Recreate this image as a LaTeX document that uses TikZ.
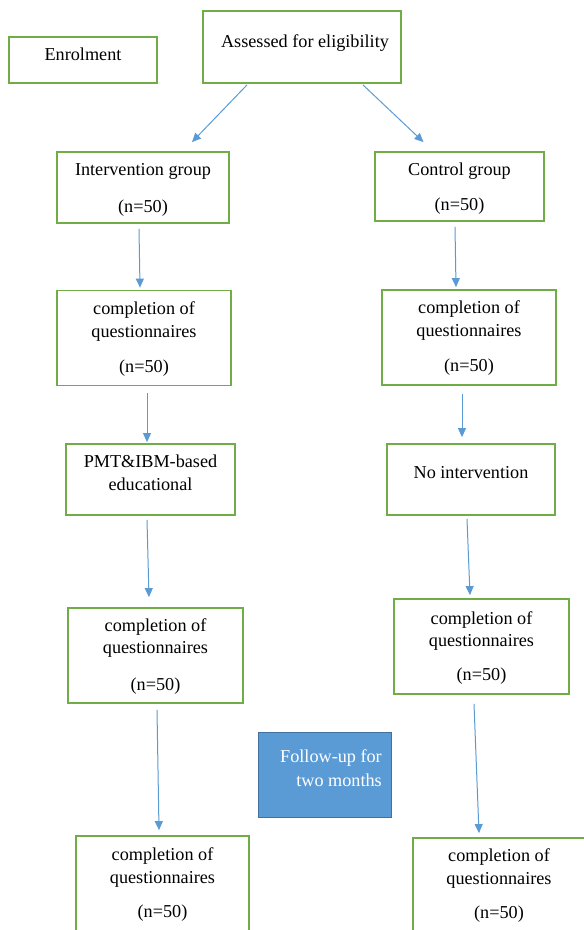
\documentclass[tikz,border=0pt]{standalone}
\usepackage{fontspec}
\setmainfont{Liberation Serif}
\usetikzlibrary{arrows.meta}
\definecolor{boxgreen}{HTML}{70AD47}
\definecolor{arrblue}{HTML}{5B9BD5}
\definecolor{fillblue}{HTML}{5B9BD5}
\definecolor{edgeblue}{HTML}{41719C}
\tikzset{
  gbox/.style={draw=boxgreen, line width=1.8pt, inner sep=0pt},
  txt/.style={inner sep=0pt, font=\fontsize{18.2}{21}\selectfont, text height=0.78em, text depth=0.12em, yshift=-2.5pt},
  arr/.style={draw=arrblue, line width=1pt, -{Triangle[length=9pt,width=8pt]}}
}
\newcommand{\gboxat}[5]{\node[gbox, minimum width=#4pt, minimum height=#5pt] (#1) at (#2,#3) {};}
\begin{document}
\begin{tikzpicture}[x=1pt,y=-1pt]
\clip (0,0) rectangle (584,930);
\fill[white] (0,0) rectangle (584,930);
% boxes
\gboxat{enrol}{83}{60}{148}{46}
\gboxat{assess}{302}{47}{198}{72}
\gboxat{ig}{143}{187.5}{172}{71}
\gboxat{cg}{459.5}{186.5}{169}{69}
\gboxat{cqa}{144}{338}{174}{95}
\gboxat{cqb}{469}{337.5}{174}{95}
\gboxat{pmt}{150.5}{479.5}{169}{71}
\gboxat{noint}{471}{479.5}{168}{71}
\gboxat{cqc}{155.5}{655.5}{175}{95}
\gboxat{cqd}{481.5}{646.5}{175}{95}
\gboxat{cqe}{162.5}{893}{173}{114}
\gboxat{cqf}{500}{894}{174}{112}
\node[draw=edgeblue, fill=fillblue, line width=1pt, minimum width=133pt, minimum height=85pt, inner sep=0pt] (fu) at (324.5,774.5) {};
% texts
\node[txt] (tenrol) at (83,55) {Enrolment};
\node[txt] (tassess) at (305,42) {Assessed for eligibility};
\node[txt] (tig1) at (143,170) {Intervention group};
\node[txt] (tig2) at (143,207) {(n=50)};
\node[txt] (tcg1) at (459.5,170) {Control group};
\node[txt] (tcg2) at (459.5,205) {(n=50)};
\node[txt] (tca1) at (144,309) {completion of};
\node[txt] (tca2) at (144,332) {questionnaires};
\node[txt] (tca3) at (144,367) {(n=50)};
\node[txt] (tcb1) at (469,308) {completion of};
\node[txt] (tcb2) at (469,331) {questionnaires};
\node[txt] (tcb3) at (469,366) {(n=50)};
\node[txt] (tpmt1) at (150.5,462) {PMT\&IBM-based};
\node[txt] (tpmt2) at (150.5,485) {educational};
\node[txt] (tnoint) at (471,473) {No intervention};
\node[txt] (tcc1) at (155.5,626) {completion of};
\node[txt] (tcc2) at (155.5,648) {questionnaires};
\node[txt] (tcc3) at (155.5,685) {(n=50)};
\node[txt] (tcd1) at (481.5,619) {completion of};
\node[txt] (tcd2) at (481.5,641) {questionnaires};
\node[txt] (tcd3) at (481.5,675) {(n=50)};
\node[txt] (tce1) at (162.5,855) {completion of};
\node[txt] (tce2) at (162.5,878) {questionnaires};
\node[txt] (tce3) at (162.5,912) {(n=50)};
\node[txt] (tcf1) at (499,856) {completion of};
\node[txt] (tcf2) at (499,879) {questionnaires};
\node[txt] (tcf3) at (499,913) {(n=50)};
\node[txt, text=white, anchor=east] (tfu1) at (382,757) {Follow-up for};
\node[txt, text=white, anchor=east] (tfu2) at (382,781) {two months};
% arrows
\draw[arr] ([shift={(-55,1)}]assess.south) -- ([shift={(49,-9)}]ig.north);
\draw[arr] ([shift={(61,1)}]assess.south) -- ([shift={(-36,-9)}]cg.north);
\draw[arr] ([shift={(-4,5)}]ig.south) -- ([shift={(-4,-2)}]cqa.north);
\draw[arr] ([shift={(-4.5,5)}]cg.south) -- ([shift={(-13,-2)}]cqb.north);
\draw[arr] ([shift={(3,7)}]cqa.south) -- ([shift={(-3.5,-1)}]pmt.north);
\draw[arr] ([shift={(-7,8)}]cqb.south) -- ([shift={(-9,-6)}]noint.north);
\draw[arr] ([shift={(-3.5,4)}]pmt.south) -- ([shift={(-6.5,-10)}]cqc.north);
\draw[arr] ([shift={(-4,3)}]noint.south) -- ([shift={(-11.5,-3)}]cqd.north);
\draw[arr] ([shift={(1.5,6)}]cqc.south) -- ([shift={(-3.5,-5)}]cqe.north);
\draw[arr] ([shift={(-7.5,9)}]cqd.south) -- ([shift={(-21,-4)}]cqf.north);
\end{tikzpicture}
\end{document}
